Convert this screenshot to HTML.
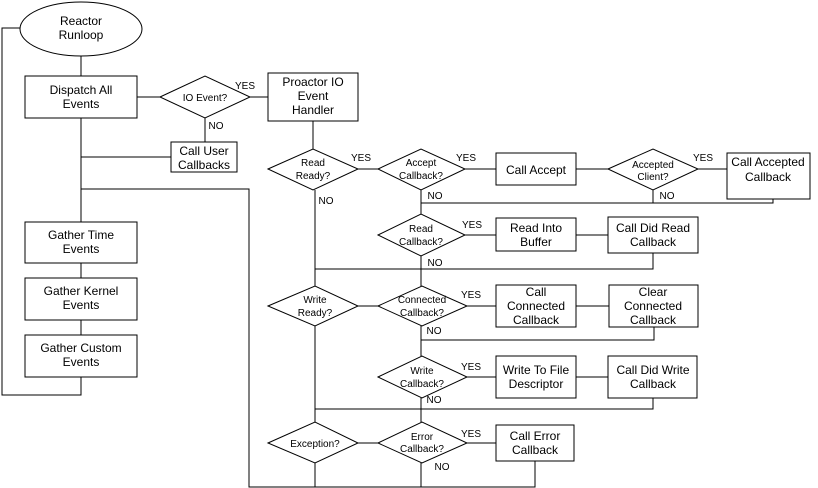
<!DOCTYPE html>
<html><head><style>
html,body{margin:0;padding:0;background:#fff;}
svg{display:block;}
text{font-family:"Liberation Sans",Arial,sans-serif;fill:#000;text-anchor:middle;}
.b{font-size:12px;}
.s{font-size:10px;}
.l{font-size:10px;}
</style></head><body>
<svg width="818" height="488" viewBox="0 0 818 488" xmlns="http://www.w3.org/2000/svg">
<g stroke="#000" stroke-width="1" fill="none">
<polyline points="21,28 2,28 2,395 81,395 81,377"/>
<line x1="81" y1="56" x2="81" y2="76"/>
<line x1="81" y1="118" x2="81" y2="222"/>
<line x1="81" y1="263" x2="81" y2="278"/>
<line x1="81" y1="320" x2="81" y2="335"/>
<line x1="137" y1="97" x2="160" y2="97"/>
<line x1="250" y1="97" x2="268" y2="97"/>
<line x1="205" y1="118" x2="205" y2="142"/>
<line x1="81" y1="157" x2="171" y2="157"/>
<polyline points="81,189 249,189 249,487 535,487 535,461"/>
<line x1="313" y1="121" x2="313" y2="149"/>
<line x1="358" y1="169" x2="378" y2="169"/>
<line x1="465" y1="169" x2="496" y2="169"/>
<line x1="576" y1="169" x2="608" y2="169"/>
<line x1="698" y1="169" x2="727" y2="169"/>
<line x1="421" y1="190" x2="421" y2="214"/>
<polyline points="421,203 773,203 773,199"/>
<line x1="653" y1="190" x2="653" y2="203"/>
<line x1="465" y1="235" x2="496" y2="235"/>
<line x1="576" y1="235" x2="608" y2="235"/>
<polyline points="315,269 653,269 653,253"/>
<line x1="315" y1="190" x2="315" y2="286"/>
<line x1="421" y1="256" x2="421" y2="286"/>
<line x1="358" y1="306" x2="378" y2="306"/>
<line x1="467" y1="306" x2="496" y2="306"/>
<line x1="576" y1="306" x2="609" y2="306"/>
<polyline points="421,340 654,340 654,327"/>
<line x1="421" y1="326" x2="421" y2="356"/>
<line x1="467" y1="377" x2="496" y2="377"/>
<line x1="576" y1="377" x2="608" y2="377"/>
<polyline points="315,409 653,409 653,398"/>
<line x1="315" y1="326" x2="315" y2="422"/>
<line x1="421" y1="398" x2="421" y2="422"/>
<line x1="358" y1="443" x2="378" y2="443"/>
<line x1="467" y1="443" x2="496" y2="443"/>
<line x1="315" y1="463" x2="315" y2="487"/>
<line x1="421" y1="463" x2="421" y2="487"/>
</g>
<g stroke="#000" stroke-width="1" fill="#fff">
<ellipse cx="81" cy="29" rx="61" ry="27"/>
<rect x="25" y="76" width="112" height="42"/>
<rect x="25" y="222" width="112" height="41"/>
<rect x="25" y="278" width="112" height="42"/>
<rect x="25" y="335" width="112" height="42"/>
<polygon points="160,97 205,76 250,97 205,118"/>
<rect x="171" y="142" width="66" height="30"/>
<rect x="268" y="73" width="90" height="48"/>
<polygon points="268,169 313,149 358,169 313,190"/>
<polygon points="378,169 421,149 465,169 421,190"/>
<rect x="496" y="153" width="80" height="32"/>
<polygon points="608,169 653,149 698,169 653,190"/>
<rect x="727" y="153" width="83" height="46"/>
<polygon points="378,235 421,214 465,235 421,256"/>
<rect x="496" y="218" width="80" height="33"/>
<rect x="608" y="217" width="90" height="36"/>
<polygon points="268,306 315,286 358,306 315,326"/>
<polygon points="378,306 422,286 467,306 422,326"/>
<rect x="496" y="285" width="80" height="42"/>
<rect x="609" y="285" width="89" height="42"/>
<polygon points="378,377 422,356 467,377 422,398"/>
<rect x="496" y="356" width="80" height="42"/>
<rect x="608" y="356" width="89" height="42"/>
<polygon points="268,443 315,422 358,443 315,463"/>
<polygon points="378,443 422,422 467,443 422,463"/>
<rect x="496" y="425" width="78" height="36"/>
</g>
<text class="b" x="81" y="25">Reactor</text><text class="b" x="81" y="39">Runloop</text>
<text class="b" x="81" y="94">Dispatch All</text><text class="b" x="81" y="108">Events</text>
<text class="b" x="81" y="239">Gather Time</text><text class="b" x="81" y="253">Events</text>
<text class="b" x="81" y="295">Gather Kernel</text><text class="b" x="81" y="309">Events</text>
<text class="b" x="81" y="352">Gather Custom</text><text class="b" x="81" y="366">Events</text>
<text class="s" x="205" y="101">IO Event?</text>
<text class="l" x="245" y="89">YES</text><text class="l" x="216" y="129">NO</text>
<text class="b" x="204" y="155">Call User</text><text class="b" x="204" y="169">Callbacks</text>
<text class="b" x="313" y="86">Proactor IO</text><text class="b" x="313" y="100">Event</text><text class="b" x="313" y="114">Handler</text>
<text class="s" x="313" y="166">Read</text><text class="s" x="313" y="179">Ready?</text>
<text class="l" x="361" y="161">YES</text><text class="l" x="326" y="204">NO</text>
<text class="s" x="421" y="166">Accept</text><text class="s" x="421" y="179">Callback?</text>
<text class="l" x="466" y="161">YES</text><text class="l" x="435" y="199">NO</text>
<text class="b" x="536" y="174">Call Accept</text>
<text class="s" x="653" y="168">Accepted</text><text class="s" x="653" y="180">Client?</text>
<text class="l" x="703" y="161">YES</text><text class="l" x="667" y="199">NO</text>
<text class="b" x="768" y="166">Call Accepted</text><text class="b" x="768" y="181">Callback</text>
<text class="s" x="421" y="232">Read</text><text class="s" x="421" y="245">Callback?</text>
<text class="l" x="472" y="228">YES</text><text class="l" x="435" y="266">NO</text>
<text class="b" x="536" y="232">Read Into</text><text class="b" x="536" y="246">Buffer</text>
<text class="b" x="653" y="232">Call Did Read</text><text class="b" x="653" y="246">Callback</text>
<text class="s" x="315" y="303">Write</text><text class="s" x="315" y="316">Ready?</text>
<text class="s" x="422" y="303">Connected</text><text class="s" x="422" y="316">Callback?</text>
<text class="l" x="471" y="298">YES</text><text class="l" x="434" y="334">NO</text>
<text class="b" x="536" y="296">Call</text><text class="b" x="536" y="310">Connected</text><text class="b" x="536" y="324">Callback</text>
<text class="b" x="653" y="296">Clear</text><text class="b" x="653" y="310">Connected</text><text class="b" x="653" y="324">Callback</text>
<text class="s" x="422" y="374">Write</text><text class="s" x="422" y="387">Callback?</text>
<text class="l" x="471" y="370">YES</text><text class="l" x="434" y="403">NO</text>
<text class="b" x="536" y="374">Write To File</text><text class="b" x="536" y="388">Descriptor</text>
<text class="b" x="653" y="374">Call Did Write</text><text class="b" x="653" y="388">Callback</text>
<text class="s" x="315" y="447">Exception?</text>
<text class="s" x="422" y="440">Error</text><text class="s" x="422" y="452">Callback?</text>
<text class="l" x="471" y="437">YES</text><text class="l" x="442" y="470">NO</text>
<text class="b" x="535" y="440">Call Error</text><text class="b" x="535" y="454">Callback</text>
</svg>
</body></html>
